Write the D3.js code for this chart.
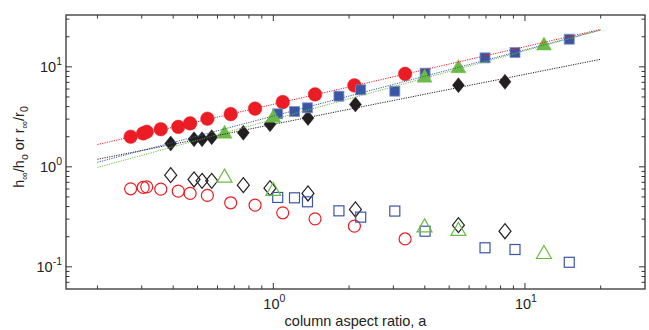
<!DOCTYPE html>
<html>
<head>
<meta charset="utf-8">
<script src="https://cdn.jsdelivr.net/npm/d3@7"></script>
<style>
  body { margin: 0; background: #fff; }
  text { font-family: "Liberation Sans", Arial, sans-serif; fill: #222; }
</style>
</head>
<body>
<div id="chart"></div>
<script>
// red circles
var redX = [0.271, 0.304, 0.314, 0.357, 0.419, 0.467, 0.547, 0.677, 0.846, 1.09, 1.465, 2.10, 3.34];
var redH = [2.0, 2.16, 2.24, 2.38, 2.51, 2.72, 3.03, 3.37, 3.82, 4.44, 5.30, 6.52, 8.51];
var redR = [0.603, 0.622, 0.631, 0.598, 0.571, 0.542, 0.518, 0.437, 0.414, 0.347, 0.302, 0.255, 0.19];

// black diamonds
var blackX = [0.391, 0.484, 0.521, 0.569, 0.76, 0.97, 1.373, 2.12, 5.44, 8.33];
var blackH = [1.71, 1.89, 1.89, 1.98, 2.19, 2.67, 3.07, 4.21, 6.56, 7.08];
var blackR = [0.826, 0.748, 0.724, 0.724, 0.656, 0.612, 0.542, 0.375, 0.261, 0.227];

// blue squares
var blueX = [1.041, 1.214, 1.367, 1.823, 2.225, 3.04, 4.01, 6.94, 9.13, 15.0];
var blueH = [3.39, 3.58, 3.89, 5.09, 5.89, 5.71, 8.65, 12.3, 13.9, 18.9];
var blueR = [0.494, 0.49, 0.447, 0.363, 0.314, 0.361, 0.227, 0.155, 0.149, 0.111];

// green triangles
var greenX = [0.64, 1.0, 3.99, 5.44, 11.9];
var greenH = [2.22, 3.21, 8.07, 10.05, 16.9];
var greenR = [0.807, 0.594, 0.257, 0.237, 0.139];

// fitted power laws, end points
var fitX = [0.2, 20];
var fitRed = [1.67, 23.7];
var fitBlue = [1.11, 23.4];
var fitGreen = [0.985, 23.3];
var fitBlack = [1.19, 11.9];

var xMajor = [1, 10];
var yMajor = [0.1, 1, 10];

var svgWidth = 649;
var svgHeight = 330;
var margin = { top: 15, right: 4, bottom: 41, left: 66 };
var width = svgWidth - margin.left - margin.right;
var height = svgHeight - margin.top - margin.bottom;

var svg = d3.select("#chart")
    .append("svg")
    .attr("width", svgWidth)
    .attr("height", svgHeight);

var chartGroup = svg.append("g")
    .attr("transform", `translate(${margin.left}, ${margin.top})`);

var x = d3.scaleLog().domain([0.15, 30]).range([0, width]);
var y = d3.scaleLog().domain([0.06, 33]).range([height, 0]);

var red = "#ec1c24", blue = "#3a55a5", green = "#6cbb46", black = "#231f20";

// minor ticks
var xMinor = [], yMinor = [];
[0.1, 1, 10].forEach(function(d) {
    for (var k = 2; k <= 9; k++) {
        if (d * k > 0.15 && d * k < 29) xMinor.push(d * k);
    }
});
[0.01, 0.1, 1, 10].forEach(function(d) {
    for (var k = 2; k <= 9; k++) {
        if (d * k > 0.061 && d * k < 32.5) yMinor.push(d * k);
    }
});

function ticks(vals, len, axis) {
    vals.forEach(function(v) {
        if (axis == "x") {
            var px = x(v);
            chartGroup.append("line").attr("x1", px).attr("x2", px).attr("y1", height).attr("y2", height - len);
            chartGroup.append("line").attr("x1", px).attr("x2", px).attr("y1", 0).attr("y2", len);
        } else {
            var py = y(v);
            chartGroup.append("line").attr("y1", py).attr("y2", py).attr("x1", 0).attr("x2", len);
            chartGroup.append("line").attr("y1", py).attr("y2", py).attr("x1", width).attr("x2", width - len);
        }
    });
}
ticks(xMinor, 3.5, "x");
ticks(xMajor, 6, "x");
ticks(yMinor, 3.5, "y");
ticks(yMajor, 6, "y");
chartGroup.selectAll("line").attr("stroke", "#333").attr("stroke-width", 1);

// tick labels
xMajor.forEach(function(v) {
    var t = chartGroup.append("text")
        .attr("x", x(v) + 1)
        .attr("y", height + 20)
        .attr("font-size", 14.5)
        .style("text-anchor", "middle");
    t.append("tspan").text("10");
    t.append("tspan").attr("dy", -7).attr("font-size", 10.5).text(Math.round(Math.log10(v)));
});
yMajor.forEach(function(v) {
    var t = chartGroup.append("text")
        .attr("x", -4)
        .attr("y", y(v) + 5)
        .attr("font-size", 14.5)
        .style("text-anchor", "end");
    t.append("tspan").text("10");
    t.append("tspan").attr("dy", -7).attr("font-size", 10.5).text(Math.round(Math.log10(v)));
});

// markers
function circles(xs, ys, filled) {
    chartGroup.selectAll(null)
        .data(xs)
        .enter()
        .append("circle")
        .attr("cx", d => x(d))
        .attr("cy", (d, i) => y(ys[i]))
        .attr("r", filled ? 6.8 : 6)
        .attr("fill", filled ? red : "none")
        .attr("stroke", red)
        .attr("stroke-width", filled ? 0.5 : 1.2);
}
function diamonds(xs, ys, filled) {
    chartGroup.selectAll(null)
        .data(xs)
        .enter()
        .append("path")
        .attr("transform", (d, i) => `translate(${x(d)},${y(ys[i])})`)
        .attr("d", "M0,-7.5L6,0L0,7.5L-6,0Z")
        .attr("fill", filled ? black : "none")
        .attr("stroke", black)
        .attr("stroke-width", filled ? 0.5 : 1.2);
}
function squares(xs, ys, filled) {
    chartGroup.selectAll(null)
        .data(xs)
        .enter()
        .append("rect")
        .attr("x", d => x(d) - 5)
        .attr("y", (d, i) => y(ys[i]) - 5)
        .attr("width", 10)
        .attr("height", 10)
        .attr("fill", filled ? blue : "none")
        .attr("stroke", filled ? "#7f93c6" : blue)
        .attr("stroke-width", filled ? 0.8 : 1.2);
}
function triangles(xs, ys, filled) {
    chartGroup.selectAll(null)
        .data(xs)
        .enter()
        .append("path")
        .attr("transform", (d, i) => `translate(${x(d)},${y(ys[i])})`)
        .attr("d", "M0,-7L7.5,6L-7.5,6Z")
        .attr("fill", filled ? green : "none")
        .attr("stroke", green)
        .attr("stroke-width", filled ? 0.5 : 1.2);
}

circles(redX, redR, false);
diamonds(blackX, blackR, false);
squares(blueX, blueR, false);
triangles(greenX, greenR, false);

circles(redX, redH, true);
diamonds(blackX, blackH, true);
squares(blueX, blueH, true);
triangles(greenX, greenH, true);

// fit lines
var line = d3.line().x(d => x(d[0])).y(d => y(d[1]));
[[fitRed, red], [fitBlue, blue], [fitGreen, green], [fitBlack, black]].forEach(function(f) {
    chartGroup.append("path")
        .attr("d", line(fitX.map((v, i) => [v, f[0][i]])))
        .attr("fill", "none")
        .attr("stroke", f[1])
        .attr("stroke-width", 1)
        .attr("stroke-dasharray", "1.2,1.2");
});

// box
chartGroup.append("rect")
    .attr("width", width)
    .attr("height", height)
    .attr("fill", "none")
    .attr("stroke", "#333")
    .attr("stroke-width", 1.3);

// axis titles
chartGroup.append("text")
    .attr("x", width / 2)
    .attr("y", height + 37)
    .attr("font-size", 14.5)
    .style("text-anchor", "middle")
    .text("column aspect ratio, a");

var yl = chartGroup.append("text")
    .attr("transform", `translate(${-42}, ${132}) rotate(-90)`)
    .attr("font-size", 14.5)
    .style("text-anchor", "middle");
yl.append("tspan").text("h");
yl.append("tspan").attr("dy", 4).attr("font-size", 10.5).text("\u221e");
yl.append("tspan").attr("dy", -4).text("/h");
yl.append("tspan").attr("dy", 4).attr("font-size", 10.5).text("o");
yl.append("tspan").attr("dy", -4).text(" or r");
yl.append("tspan").attr("dy", 4).attr("font-size", 10.5).text("\u221e");
yl.append("tspan").attr("dy", -4).text("/r");
yl.append("tspan").attr("dy", 4).attr("font-size", 10.5).text("0");
</script>
</body>
</html>
